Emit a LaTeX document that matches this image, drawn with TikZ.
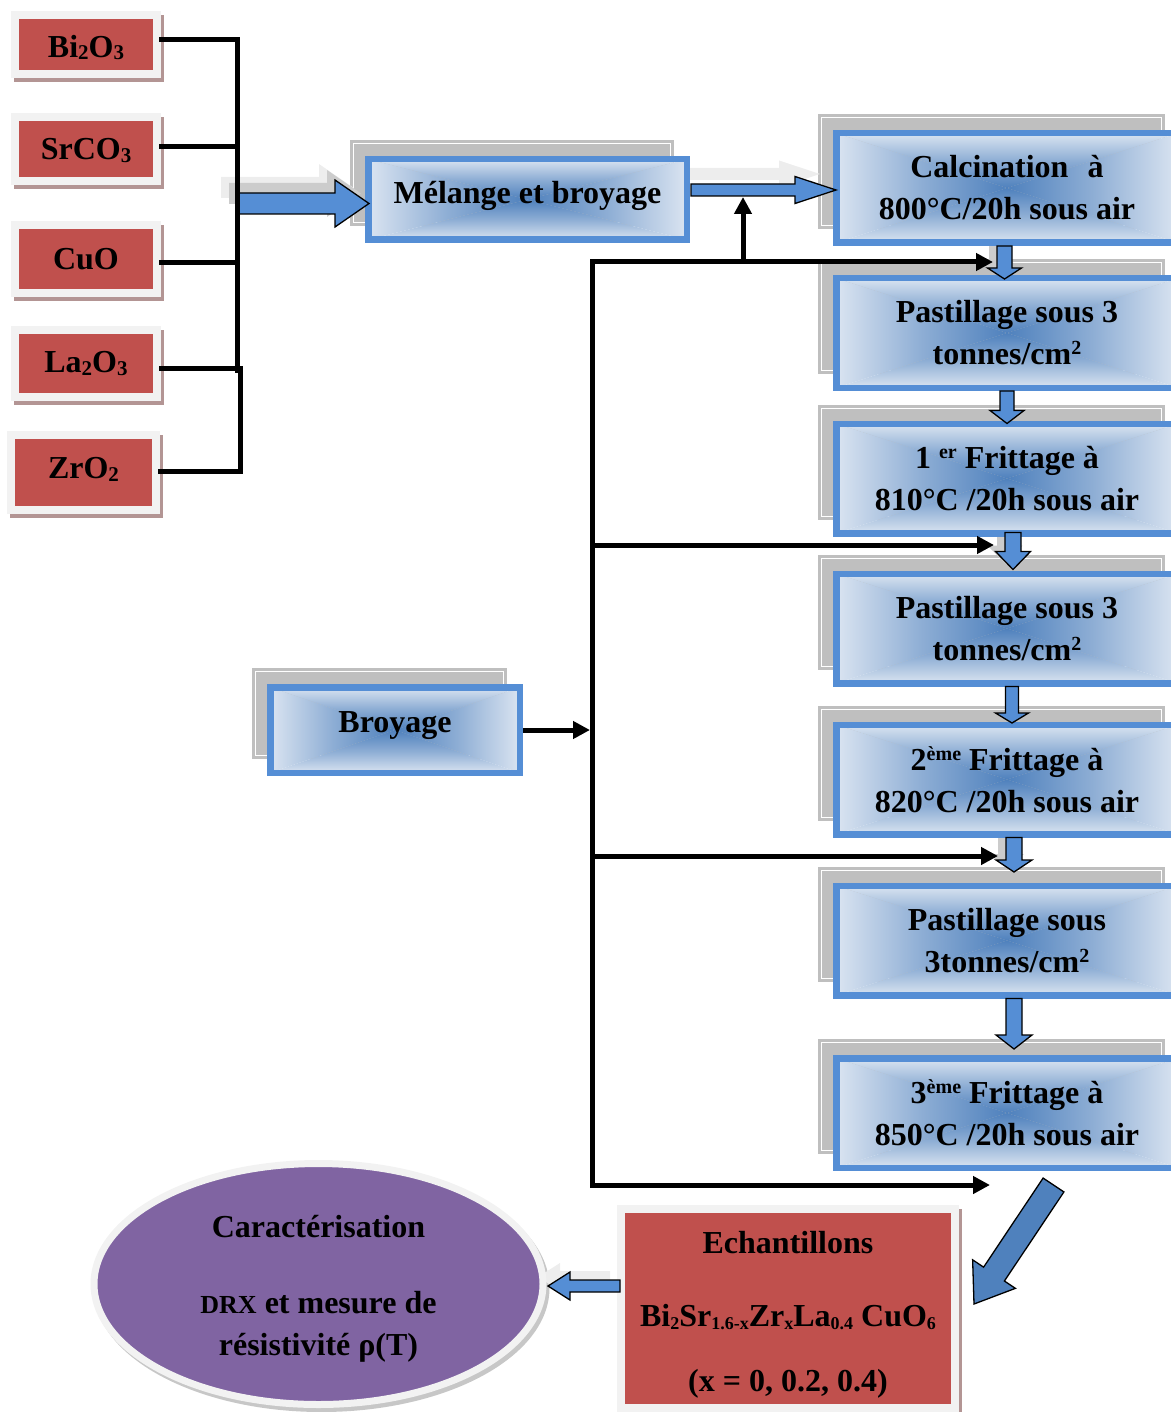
\documentclass[tikz,border=0pt]{standalone}
\usepackage{fontspec}
\setmainfont{Liberation Serif}
\usetikzlibrary{calc,arrows.meta,shapes.geometric}
\pgfdeclarelayer{bg}
\pgfsetlayers{bg,main}
\definecolor{bord}{HTML}{558ED5}
\definecolor{gl}{HTML}{DAE4F1}
\definecolor{gb}{HTML}{4F81BD}
\colorlet{gm}{gl!45!gb}
\definecolor{redc}{HTML}{C0504D}
\definecolor{framec}{HTML}{F2F2F2}
\definecolor{shc}{HTML}{B39594}
\definecolor{grayc}{HTML}{BFBFBF}
\definecolor{purp}{HTML}{8064A2}
\definecolor{arrc}{HTML}{558ED5}
\definecolor{arrd}{HTML}{4F81BD}
\newcommand\bx{\bfseries\fontsize{32}{42}\selectfont}
\newcommand\dn[2][21]{\raisebox{-2.5pt}{\fontsize{#1}{#1}\selectfont #2}}
\newcommand\up[1]{\raisebox{10pt}{\fontsize{20}{20}\selectfont #1}}
\newcommand\sv[2]{\raisebox{#1}[\height][\depth]{#2}}
\newcommand\rectgrad{%
  \coordinate (qa) at (path picture bounding box.north west);
  \coordinate (qb) at (path picture bounding box.north east);
  \coordinate (qc) at (path picture bounding box.south east);
  \coordinate (qd) at (path picture bounding box.south west);
  \coordinate (qo) at (path picture bounding box.center);
  \shade[top color=gl, bottom color=gb, middle color=gm] (qa) -- (qb) -- (qo) -- cycle;
  \shade[top color=gb, bottom color=gl, middle color=gm] (qd) -- (qc) -- (qo) -- cycle;
  \shade[left color=gl, right color=gb, middle color=gm] (qa) -- (qd) -- (qo) -- cycle;
  \shade[left color=gb, right color=gl, middle color=gm] (qb) -- (qc) -- (qo) -- cycle;
}
\newcommand\barrow[6][]{%
  \coordinate (ba-s) at (#2);
  \coordinate (ba-t) at (#3);
  \coordinate (ba-h) at ($(ba-t)!#6!(ba-s)$);
  \path[#1] ($(ba-s)!#4!90:(ba-t)$) -- ($(ba-h)!#4!90:(ba-t)$) -- ($(ba-h)!#5!90:(ba-t)$) -- (ba-t)
    -- ($(ba-h)!#5!-90:(ba-t)$) -- ($(ba-h)!#4!-90:(ba-t)$) -- ($(ba-s)!#4!-90:(ba-t)$) -- cycle;}
\newcommand\gshadow[1]{%
  \fill[grayc] ($(#1.north west)+(-15,-16)$) rectangle ($(#1.south east)+(-16,-17)$);
  \draw[white, line width=1pt] ($(#1.north west)+(-11.5,-12.5)$) rectangle ($(#1.south east)+(-19.5,-20.5)$);}
\newcommand\rshadow[1]{%
  \fill[shc] ($(#1.north west)+(3,4)$) rectangle ($(#1.south east)+(3,4)$);}
\begin{document}
\begin{tikzpicture}[x=1pt,y=-1pt,
  procbox/.style={draw=bord, line width=6.5pt, path picture={\rectgrad}, align=center,
    inner sep=0pt, font=\bx, minimum width=341.5pt, minimum height=109.5pt},
  redbox/.style={fill=redc, draw=framec, line width=8pt, inner sep=0pt, font=\bx},
  conn/.style={line width=5pt},
  rconn/.style={line width=5pt, line cap=rect},
  tipa/.style={-{Triangle[length=17pt,width=17pt]}},
  barr/.style={fill=arrc, draw=black, line width=1.3pt, line join=miter},
  bshad/.style={fill=black!20, draw=none},
  lshad/.style={fill=black!7, draw=none}]
\useasboundingbox (0,0) rectangle (1170,1412);

% raw materials
\node[redbox, minimum width=142pt, minimum height=59pt] (bi) at (86,44.5) {\sv{-3pt}{Bi\dn{2}O\dn{3}}};
\node[redbox, minimum width=142pt, minimum height=64pt] (sr) at (86,149) {\sv{-1.5pt}{SrCO\dn{3}}};
\node[redbox, minimum width=142pt, minimum height=68pt] (cu) at (86,259) {CuO};
\node[redbox, minimum width=142pt, minimum height=67pt] (la) at (86,363.5) {La\dn{2}O\dn{3}};
\node[redbox, minimum width=145pt, minimum height=75pt] (zr) at (83.5,472.5) {\sv{3pt}{ZrO\dn{2}}};

% process boxes
\node[procbox, minimum width=318.5pt, minimum height=80.5pt] (mel) at (527.5,199.5) {\sv{4pt}{Mélange et broyage}};
\node[procbox, minimum width=249.5pt, minimum height=85.5pt] (bro) at (395,730) {\sv{4pt}{Broyage}};
\node[procbox] (calc) at (1007,188) {Calcination\hspace{0.6em}à\\800°C/20h sous air};
\node[procbox] (p1) at (1007,333) {Pastillage sous 3\\tonnes/cm\up{2}};
\node[procbox] (fr1) at (1007,478.5) {1 \up{er} Frittage à\\810°C /20h sous air};
\node[procbox] (p2) at (1007,628.5) {Pastillage sous 3\\tonnes/cm\up{2}};
\node[procbox] (fr2) at (1007,779.5) {2\up{ème} Frittage à\\820°C /20h sous air};
\node[procbox] (p3) at (1007,940.5) {Pastillage sous\\3tonnes/cm\up{2}};
\node[procbox] (fr3) at (1007,1113) {3\up{ème} Frittage à\\850°C /20h sous air};

% samples and characterisation
\node[redbox, minimum width=334pt, minimum height=199pt] (ech) at (788,1308.5)
  {\sv{-6pt}{\begin{tabular}{@{}c@{}}Echantillons\\[31pt]Bi\dn[18]{2}Sr\dn[18]{1.6-x}Zr\dn[18]{x}La\dn[18]{0.4} CuO\dn[18]{6}\\[23pt](x = 0, 0.2, 0.4)\end{tabular}}};
\node[ellipse, fill=purp, draw=framec, line width=7pt, minimum width=449pt, minimum height=241pt,
  inner sep=0pt, font=\bx] (car) at (318.5,1284)
  {\sv{-4pt}{\begin{tabular}{@{}c@{}}Caractérisation\\[34pt]{\fontsize{26}{42}\selectfont DRX} et mesure de\\résistivité ρ(T)\end{tabular}}};

% background shadows
\begin{pgfonlayer}{bg}
  \foreach \n in {mel,bro,calc,p1,fr1,p2,fr2,p3,fr3} {\gshadow{\n}}
  \foreach \n in {bi,sr,cu,la,zr,ech} {\rshadow{\n}}
  \fill[black!22] ($(car.center)+(3,4)$) ellipse [x radius=228pt, y radius=124pt];
  % arrow shadows
  \coordinate (jm) at (237,203.5);
  \begin{scope}[transform canvas={shift={(-16,-16)}}]
    \barrow[lshad]{jm}{$(mel.west)+(4,4)$}{10.5pt}{23.5pt}{34pt}
    \barrow[lshad]{$(mel.east)+(1,-9.5)$}{$(calc.west)+(3,2)$}{6pt}{13.5pt}{41pt}
  \end{scope}
  \begin{scope}[transform canvas={shift={(-8,-10)}}]
    \barrow[bshad]{jm}{$(mel.west)+(4,4)$}{10.5pt}{23.5pt}{34pt}
  \end{scope}
  \begin{scope}[transform canvas={shift={(-8,-6)}}]
    \barrow[bshad]{$(calc.south)+(-2.5,0)$}{$(p1.north)+(-2.5,4)$}{7.5pt}{17pt}{11pt}
    \barrow[bshad]{$(fr1.south)+(6,-4)$}{$(p2.north)+(6,-1)$}{8pt}{17.5pt}{18pt}
    \barrow[bshad]{$(fr2.south)+(7,0)$}{$(p3.north)+(7,-10.5)$}{8pt}{18pt}{12pt}
  \end{scope}
  \begin{scope}[transform canvas={shift={(-10,-9)}}]
    \barrow[lshad]{$(ech.west)+(3,-22.5)$}{$(car.east)+(1.5,2)$}{6pt}{14pt}{22pt}
  \end{scope}
\end{pgfonlayer}

% block arrows
\barrow[barr]{jm}{$(mel.west)+(4,4)$}{10.5pt}{23.5pt}{34pt}
\barrow[barr]{$(mel.east)+(1,-9.5)$}{$(calc.west)+(3,2)$}{6pt}{13.5pt}{41pt}
\barrow[barr]{$(calc.south)+(-2.5,0)$}{$(p1.north)+(-2.5,4)$}{7.5pt}{17pt}{11pt}
\barrow[barr]{$(p1.south)$}{$(fr1.north)+(0,3)$}{7pt}{17pt}{13pt}
\barrow[barr]{$(fr1.south)+(6,-4)$}{$(p2.north)+(6,-1)$}{8pt}{17.5pt}{18pt}
\barrow[barr]{$(p2.south)+(5,0)$}{$(fr2.north)+(5,1.5)$}{6.5pt}{16.5pt}{10pt}
\barrow[barr]{$(fr2.south)+(7,0)$}{$(p3.north)+(7,-10.5)$}{8pt}{18pt}{12pt}
\barrow[barr]{$(p3.south)+(7,0)$}{$(fr3.north)+(7,-6)$}{8pt}{18pt}{14pt}
\barrow[barr, fill=arrd]{$(fr3.south)+(46.5,14)$}{$(ech.north east)+(15,99)$}{12.5pt}{25.7pt}{36pt}
\barrow[barr]{$(ech.west)+(3,-22.5)$}{$(car.east)+(1.5,2)$}{6pt}{14pt}{22pt}

% raw material collector
\coordinate (t1) at (237,40);
\coordinate (t2) at (237,147);
\coordinate (t3) at (237,263);
\coordinate (t4) at (237,368);
\coordinate (t5) at (240,368);
\coordinate (t6) at (240,471);
\draw[rconn] (bi.east |- t1) -- (t1) -- ($(t4)+(0,2)$);
\draw[rconn] (sr.east |- t2) -- (t2);
\draw[rconn] (cu.east |- t3) -- (t3);
\draw[rconn] (la.east |- t4) -- (t5) -- (t6) -- (zr.east |- t6);

% feedback lines
\coordinate (f1) at (592,262);
\coordinate (f2) at (592,545);
\coordinate (f3) at (592,856);
\coordinate (f4) at (592,1185);
\coordinate (e1) at (993,262);
\coordinate (e2) at (994,545);
\coordinate (e3) at (998,856);
\coordinate (e4) at (990,1185);
\coordinate (u0) at (743,262);
\coordinate (u1) at (743,197);
\draw[rconn] (f1) -- (f4);
\draw[conn, tipa] (f1) -- (e1);
\draw[conn, tipa] (u0) -- (u1);
\draw[conn, tipa] (f2) -- (e2);
\draw[conn, tipa] (f3) -- (e3);
\draw[conn, tipa] (f4) -- (e4);
\draw[conn, tipa] (bro.east) -- ($(bro.east -| f1)+(-2,0)$);
\end{tikzpicture}
\end{document}
